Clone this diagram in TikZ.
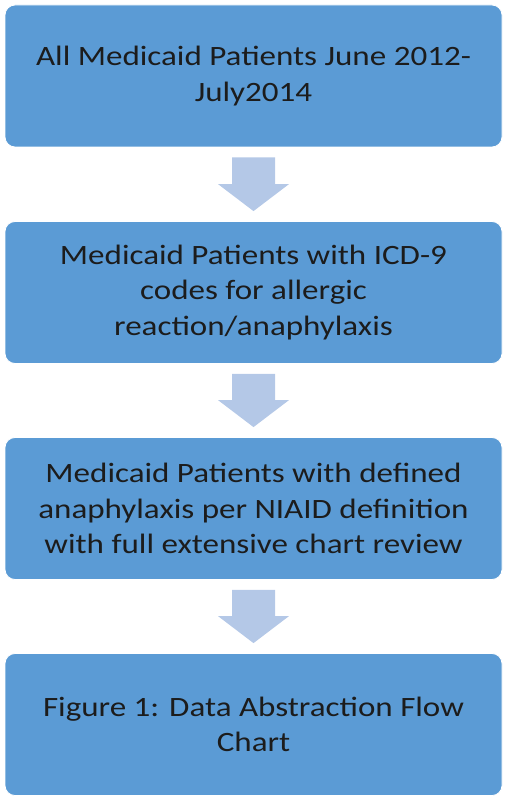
\documentclass[tikz,border=0pt]{standalone}
\usepackage{fontspec}
\setmainfont{Carlito}[FakeStretch=1.18]
\usetikzlibrary{calc}
\definecolor{boxblue}{HTML}{5B9BD5}
\definecolor{arrowblue}{HTML}{B4C8E7}
\definecolor{txt}{HTML}{1C1C1C}
\begin{document}
\begin{tikzpicture}[x=1pt,y=-1pt,
  stage/.style={draw=white, line width=0.8pt, fill=boxblue, rounded corners=10pt,
    minimum width=497pt, minimum height=142pt, inner sep=0pt, align=center,
    font=\fontsize{28}{35.5}\selectfont, text=txt},
  downarrow/.style={fill=arrowblue}]
\useasboundingbox (0,0) rectangle (508,802);
\node[stage] (b1) at (253.5,76) {All Medicaid Patients June 2012-\\July2014};
\node[stage] (b2) at (253.5,292.5) {Medicaid Patients with ICD-9\\codes for allergic\\reaction/anaphylaxis};
\node[stage] (b3) at (253.5,508.5) {Medicaid Patients with defined\\anaphylaxis per NIAID definition\\with full extensive chart review};
\node[stage] (b4) at (253.5,724.5) {Figure 1: Data Abstraction Flow\\Chart};
\foreach \a/\b in {b1/b2, b2/b3, b3/b4}{
  \path (\a.south) ++(0,10) coordinate (t);
  \path (\b.north) ++(0,-10) coordinate (p);
  \fill[downarrow] ($(t)+(-21.5,0)$) -- ($(t)+(21.5,0)$) |- ($(p)+(35.5,-27)$) -- (p) -- ($(p)+(-35.5,-27)$) -| cycle;
}
\end{tikzpicture}
\end{document}
